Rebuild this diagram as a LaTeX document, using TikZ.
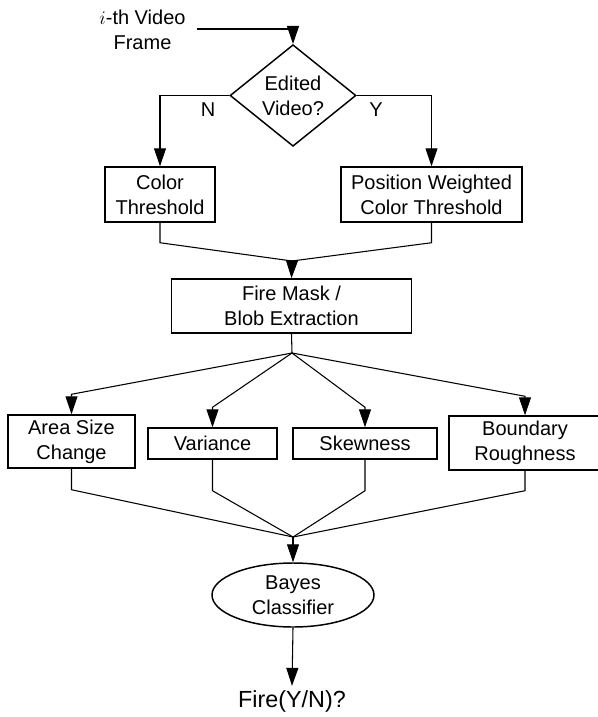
\documentclass[tikz,border=0pt]{standalone}
\usepackage{fontspec}
\setmainfont{Liberation Sans}
\usetikzlibrary{arrows.meta}
\usetikzlibrary{shapes.geometric}

\tikzset{
  lbl/.style={font=\fontsize{15}{18.75}\selectfont, align=center},
  procbox/.style={lbl, draw, line width=1.1pt, inner sep=0pt},
  link/.style={line width=0.8pt},
  arr/.style={link, -{Triangle[length=13.5pt,width=9pt]}}
}

\begin{document}
\begin{tikzpicture}[x=0.75pt, y=-0.75pt]
  \useasboundingbox (0,0) rectangle (597,717);

  % Input and decision
  \node[lbl] (frame) at (142.5,30) {$i$-th Video\\Frame};
  \coordinate (in) at (197,29);
  \node[procbox, shape=diamond, minimum width=94.5pt, minimum height=71.25pt] (edited) at (293,95.5) {Edited\\Video?};
  \node[lbl] (no) at (208,110) {N};
  \node[lbl] (yes) at (376,110) {Y};

  \node[procbox, minimum width=82.5pt, minimum height=41.25pt] (ct) at (160,194.5) {Color\\Threshold};
  \node[procbox, minimum width=135.75pt, minimum height=41.25pt] (pwct) at (431.5,194.5) {Position Weighted\\Color Threshold};

  \draw[arr] (in) -| (edited.north);
  \draw[arr] (edited.west) -| (ct.north);
  \draw[arr] (edited.east) -| (pwct.north);

  % Fire mask
  \coordinate (join1) at (292,261);
  \node[procbox, minimum width=180pt, minimum height=40.5pt] (mask) at (291.5,306) {Fire Mask /\\Blob Extraction};
  \draw[link] (ct.south) -- ([yshift=-15pt]ct.south) -- (join1);
  \draw[link] (pwct.south) -- ([yshift=-15pt]pwct.south) -- (join1);
  \draw[arr] (join1) -- (mask.north);

  % Features
  \coordinate (split) at (292,353);
  \node[procbox, minimum width=95.25pt, minimum height=39.75pt] (area) at (71.5,441.5) {Area Size\\Change};
  \node[procbox, minimum width=96.75pt, minimum height=23.25pt] (var) at (212.5,443.5) {Variance};
  \node[procbox, minimum width=108pt, minimum height=23.25pt] (skew) at (365,443.5) {Skewness};
  \node[procbox, minimum width=114pt, minimum height=40.5pt] (bound) at (525,443) {Boundary\\Roughness};

  \draw[link] (mask.south) -- (split);
  \draw[arr] (split) -- ([yshift=15pt]area.north) -- (area.north);
  \draw[arr] (split) -- ([yshift=15pt]var.north) -- (var.north);
  \draw[arr] (split) -- ([yshift=15pt]skew.north) -- (skew.north);
  \draw[arr] (split) -- ([yshift=14.25pt]bound.north) -- (bound.north);

  % Classifier
  \coordinate (join2) at (293,537);
  \node[procbox, shape=ellipse, minimum width=121.5pt, minimum height=48pt] (bayes) at (293,595) {Bayes\\Classifier};
  \node[font=\fontsize{17.5}{21}\selectfont, inner sep=3pt] (out) at (292,701) {Fire(Y/N)?};

  \draw[link] (area.south) -- ([yshift=-15.75pt]area.south) -- (join2);
  \draw[link] (var.south) -- ([yshift=-23.25pt]var.south) -- (join2);
  \draw[link] (skew.south) -- ([yshift=-23.25pt]skew.south) -- (join2);
  \draw[link] (bound.south) -- ([yshift=-15pt]bound.south) -- (join2);
  \draw[arr] (join2) -- (bayes.north);
  \draw[arr] (bayes.south) -- (out.north);
\end{tikzpicture}
\end{document}
